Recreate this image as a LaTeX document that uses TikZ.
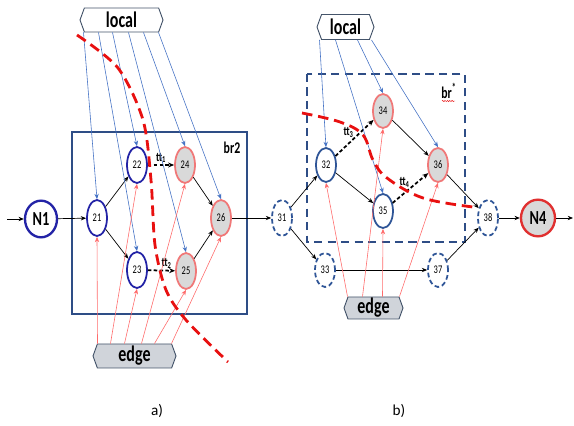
\documentclass[tikz,border=0pt]{standalone}
\usepackage{fontspec}
\setmainfont{Carlito}
\newfontfamily\narrowfont[FakeStretch=0.72]{Carlito}
\usetikzlibrary{arrows.meta,shapes.geometric,shapes.symbols,calc,decorations.pathmorphing}
\definecolor{nodeblue}{HTML}{2323A6}
\definecolor{steelblue}{HTML}{2F5597}
\definecolor{nodered}{HTML}{F07878}
\definecolor{nodegray}{HTML}{D9D9D9}
\definecolor{nfourred}{HTML}{E03030}
\definecolor{boxblue}{HTML}{2E4D86}
\definecolor{hexline}{HTML}{44546A}
\definecolor{hexgray}{HTML}{D0D4DA}
\definecolor{lineblue}{HTML}{4472C4}
\definecolor{linered}{HTML}{FF6B6B}
\definecolor{cutred}{HTML}{E81010}
\newcommand\nodenumfont{\narrowfont\fontsize{10}{12}\selectfont}
\newcommand\bignodefont{\narrowfont\bfseries\fontsize{17}{19}\selectfont}
\newcommand\hexfont{\narrowfont\bfseries\fontsize{19}{21}\selectfont}
\newcommand\brfont{\narrowfont\bfseries\fontsize{14}{16}\selectfont}
\newcommand\ttfont{\narrowfont\bfseries\fontsize{11}{13}\selectfont}
\newcommand\capfont{\fontsize{13}{15}\selectfont}

\begin{document}
\begin{tikzpicture}[x=0.03cm,y=-0.03cm,line width=0.8pt,>=Stealth,
  smalltip/.style={-{Stealth[length=1.6mm,width=1.3mm]}},
  bnode/.style={ellipse,draw=nodeblue,line width=1.5pt,fill=white,inner sep=0pt,
    minimum width=0.6cm,minimum height=1.08cm,font=\nodenumfont},
  snode/.style={bnode,draw=steelblue,minimum height=1.02cm},
  rnode/.style={bnode,draw=nodered,fill=nodegray},
  dnode/.style={bnode,draw=steelblue,dash pattern=on 4pt off 2.5pt,minimum width=0.6cm},
  hexbox/.style={signal,signal to=west and east,signal pointer angle=140,draw=hexline,
    line width=0.8pt,inner sep=0pt,font=\hexfont},
  bline/.style={smalltip,draw=lineblue,line width=0.5pt},
  rline/.style={smalltip,draw=linered,line width=0.5pt},
  karr/.style={smalltip,line width=0.6pt},
  ttarr/.style={-{Stealth[length=1.8mm,width=1.5mm]},line width=1.5pt,dash pattern=on 3pt off 2pt},
  cut/.style={draw=cutred,line width=2.4pt,dash pattern=on 9pt off 5pt}]
  \useasboundingbox (0,0) rectangle (574,426);
  % branch boxes
  \draw[boxblue,line width=2.2pt] (72,132) rectangle (247,314);
  \draw[boxblue,line width=2.2pt,dash pattern=on 7pt off 4.5pt] (307,74) rectangle (465,242);
  \node[font=\brfont] (brtwo) at (232,148) {br2};
  \node[font=\brfont] (brstar) at (449,91) {br\textsuperscript{*}};
  \draw[cutred,line width=0.4pt,decorate,decoration={snake,amplitude=0.5pt,segment length=2pt}] (442,101) -- (455,101);
  % local / edge tags
  \node[hexbox,fill=white,minimum width=2.49cm,minimum height=0.72cm] (locA) at (121.5,20) {local};
  \node[hexbox,fill=hexgray,minimum width=2.49cm,minimum height=0.72cm] (edgA) at (134.5,356) {edge};
  \node[hexbox,fill=white,minimum width=1.71cm,minimum height=0.75cm] (locB) at (345.5,27) {local};
  \node[hexbox,fill=hexgray,minimum width=1.77cm,minimum height=0.66cm] (edgB) at (373.5,308) {edge};
  % nodes of a)
  \node[bnode,line width=2pt,minimum width=0.96cm,minimum height=1.1cm,font=\bignodefont] (N1) at (41,219) {N1};
  \node[bnode] (n21) at (97,218) {21};
  \node[bnode] (n22) at (137,165) {22};
  \node[bnode] (n23) at (137,270) {23};
  \node[rnode] (n24) at (185,165) {24};
  \node[rnode] (n25) at (186,271) {25};
  \node[rnode] (n26) at (221,218) {26};
  \node[dnode] (n31) at (282,218) {31};
  % nodes of b)
  \node[snode] (n32) at (326,165) {32};
  \node[rnode,minimum height=1.02cm] (n34) at (383,111) {34};
  \node[snode] (n35) at (383,211) {35};
  \node[rnode,minimum height=1.02cm] (n36) at (438,165) {36};
  \node[dnode,minimum height=1.02cm] (n33) at (325,270) {33};
  \node[dnode,minimum height=1.02cm] (n37) at (438,270) {37};
  \node[dnode] (n38) at (488,218) {38};
  \node[rnode,draw=nfourred,line width=2pt,minimum width=1.02cm,minimum height=1.1cm,font=\bignodefont] (N4) at (538,218) {N4};
  \coordinate (in) at (7,219);
  \coordinate (out) at (573,218);
  % flow arrows
  \foreach \a/\b in {in/N1,N1/n21,n21/n22,n21/n23,n24/n26,n25/n26,n26/n31,
    n31/n32,n31/n33,n32/n35,n34/n36,n36/n38,n33/n37,n37/n38,n38/N4,N4/out}
    \draw[karr] (\a) -- (\b);
  \draw[ttarr] (n22) -- node[above,font=\ttfont,inner sep=1pt] (ttone) {tt\textsubscript{1}} (n24);
  \draw[ttarr] (n23) -- node[above,font=\ttfont,inner sep=1pt,xshift=0.15cm] (tttwo) {tt\textsubscript{2}} (n25);
  \draw[ttarr] (n32) -- node[above left,font=\ttfont,inner sep=0pt] (ttthree) {tt\textsubscript{3}} (n34);
  \draw[ttarr] (n35) -- node[above left,font=\ttfont,inner sep=0pt] (ttfour) {tt\textsubscript{4}} (n36);
  % local links
  \foreach \dx/\t in {-38/n21,-23/n23,-9/n22,7/n25,22/n24,37/n26}
    \draw[bline] ($(locA.south)+(\dx,0)$) -- (\t.north);
  \foreach \dx/\t in {-26/n32,-10/n35,12/n34,26/n36}
    \draw[bline] ($(locB.south)+(\dx,0)$) -- (\t.north);
  % edge links
  \foreach \dx/\t in {-37/n21,-24/n22,-10/n23,7/n24,20/n25,37/n26}
    \draw[rline] ($(edgA.north)+(\dx,0)$) -- (\t.south);
  \foreach \dx/\t in {-26/n32,-11/n34,9/n35,26/n36}
    \draw[rline] ($(edgB.north)+(\dx,0)$) -- (\t.south);
  % cuts
  \draw[cut] plot[smooth,tension=0.5] coordinates {(77,35) (118,68) (143,120) (151,180) (155,245) (166,290) (186,320) (228,362)};
  \draw[cut] plot[smooth,tension=0.6] coordinates {(302,113) (340,122) (363,135) (373,160) (387,178) (423,198) (473,207)};
  % captions
  \node[font=\capfont] (capa) at (157,411) {a)};
  \node[font=\capfont] (capb) at (399,411) {b)};
\end{tikzpicture}
\end{document}
